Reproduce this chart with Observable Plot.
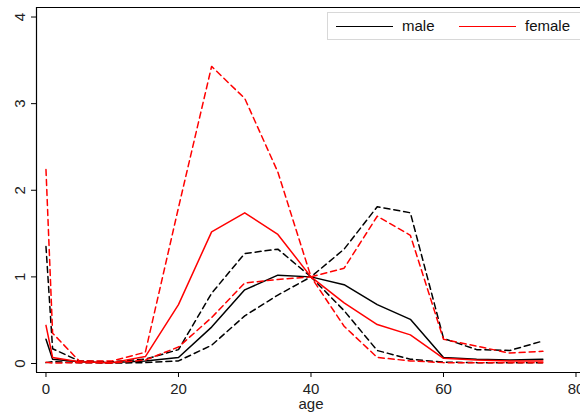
<!DOCTYPE html>
<html>
<head>
<meta charset="utf-8">
<script src="https://cdn.jsdelivr.net/npm/d3@7"></script>
<script src="https://cdn.jsdelivr.net/npm/@observablehq/plot@0.6"></script>
<style>
  html, body { margin: 0; padding: 0; background: #fff; overflow: hidden; }
  #wrap { position: relative; width: 580px; height: 417px; overflow: hidden; font-family: "Liberation Sans", Arial, Helvetica, sans-serif; }
  #legend { position: absolute; left: 327px; top: 12px; width: 270px; height: 28px; border: 1px solid #d8d8d8; background: #fff; box-sizing: border-box; }
  #legend .ln { position: absolute; top: 13px; height: 0; border-top: 1.6px solid; }
  #legend .lb { position: absolute; top: 4px; font-size: 15px; line-height: 18px; color: #111; }
</style>
</head>
<body>
<div id="wrap"><div id="legend"></div></div>
<script>
const ages     = [0, 1, 5, 10, 15, 20, 25, 30, 35, 40, 45, 50, 55, 60, 65, 70, 75];
const male     = [0.28, 0.05, 0.02, 0.01, 0.03, 0.07, 0.42, 0.85, 1.02, 1.00, 0.91, 0.68, 0.51, 0.07, 0.05, 0.04, 0.05];
const maleLo   = [0.01, 0.02, 0.01, 0.005, 0.01, 0.03, 0.21, 0.55, 0.79, 1.00, 0.61, 0.15, 0.05, 0.015, 0.01, 0.01, 0.01];
const maleHi   = [1.35, 0.17, 0.03, 0.02, 0.05, 0.16, 0.81, 1.27, 1.32, 1.00, 1.32, 1.81, 1.74, 0.29, 0.16, 0.15, 0.26];
const female   = [0.44, 0.07, 0.02, 0.01, 0.08, 0.68, 1.52, 1.74, 1.49, 1.00, 0.70, 0.45, 0.33, 0.06, 0.04, 0.03, 0.03];
const femaleLo = [0.015, 0.005, 0.01, 0.005, 0.04, 0.19, 0.53, 0.93, 0.97, 1.00, 0.43, 0.07, 0.03, 0.01, 0.01, 0.01, 0.01];
const femaleHi = [2.24, 0.35, 0.03, 0.03, 0.13, 1.80, 3.43, 3.06, 2.21, 1.00, 1.10, 1.70, 1.48, 0.28, 0.20, 0.12, 0.14];
const xTicks = [0, 20, 40, 60, 80];
const yTicks = [0, 1, 2, 3, 4];
const seriesNames = ["male", "female"];
const seriesColors = ["#000000", "#ff0000"];

const xDomain = [-1.43, 80.68];
const yDomain = [-0.104, 4.11];
const font = "Liberation Sans, Arial, Helvetica, sans-serif";
const dash = "6,4";

const plot = Plot.plot({
  width: 580,
  height: 417,
  marginLeft: 36,
  marginRight: 0,
  marginTop: 7,
  marginBottom: 45,
  style: {fontFamily: font, fontSize: "15px", background: "transparent", color: "#222"},
  x: {domain: xDomain},
  y: {domain: yDomain},
  marks: [
    Plot.ruleY([yDomain[0]], {stroke: "#000", strokeWidth: 1.2}),
    Plot.ruleY([yDomain[1]], {stroke: "#000", strokeWidth: 1.2}),
    Plot.ruleX([xDomain[0]], {stroke: "#000", strokeWidth: 1.2}),
    Plot.axisX({ticks: xTicks, tickSize: 5, tickPadding: 6, label: null, fontSize: 15, stroke: "#000"}),
    Plot.axisY({ticks: yTicks, tickSize: 5, tickFormat: () => "", label: null, stroke: "#000"}),
    Plot.text(yTicks, {x: xDomain[0], y: d => d, text: d => String(d), rotate: -90, dx: -16, fontSize: 15, fill: "#222"}),
    Plot.text(["age"], {x: 40, frameAnchor: "bottom", dy: 36, text: d => d, fontSize: 15, fill: "#222"}),
    Plot.line(ages, {x: ages, y: maleHi, stroke: seriesColors[0], strokeWidth: 1.5, strokeDasharray: dash}),
    Plot.line(ages, {x: ages, y: maleLo, stroke: seriesColors[0], strokeWidth: 1.5, strokeDasharray: dash}),
    Plot.line(ages, {x: ages, y: male, stroke: seriesColors[0], strokeWidth: 1.5}),
    Plot.line(ages, {x: ages, y: femaleHi, stroke: seriesColors[1], strokeWidth: 1.5, strokeDasharray: dash}),
    Plot.line(ages, {x: ages, y: femaleLo, stroke: seriesColors[1], strokeWidth: 1.5, strokeDasharray: dash}),
    Plot.line(ages, {x: ages, y: female, stroke: seriesColors[1], strokeWidth: 1.5})
  ]
});
document.getElementById("wrap").prepend(plot);

const legend = document.getElementById("legend");
const legendPos = [{line: 8, text: 74}, {line: 131, text: 197}];
seriesNames.forEach((name, i) => {
  const ln = document.createElement("div");
  ln.className = "ln";
  ln.style.left = legendPos[i].line + "px";
  ln.style.width = "57px";
  ln.style.borderTopColor = seriesColors[i];
  legend.appendChild(ln);
  const lb = document.createElement("div");
  lb.className = "lb";
  lb.style.left = legendPos[i].text + "px";
  lb.textContent = name;
  legend.appendChild(lb);
});
</script>
</body>
</html>
